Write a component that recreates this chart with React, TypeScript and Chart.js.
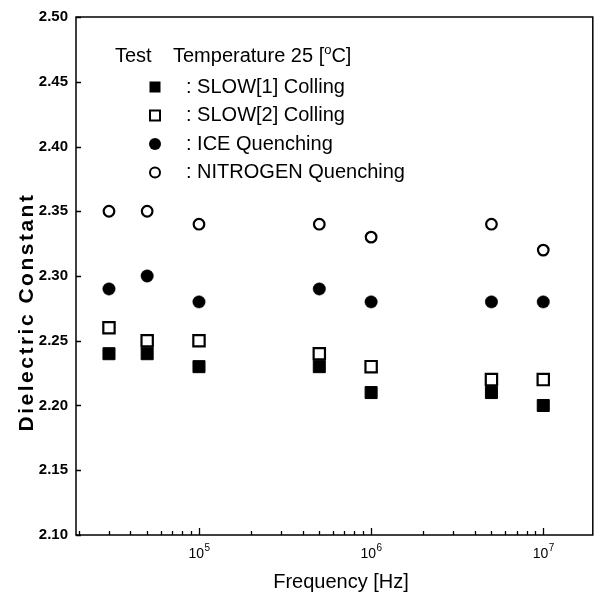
import React, { useEffect, useRef } from 'react';
import { Chart, registerables } from 'chart.js';

Chart.register(...registerables);

const frequencies = [3e4, 5e4, 1e5, 5e5, 1e6, 5e6, 1e7];
const slow1 = [2.24, 2.24, 2.23, 2.23, 2.21, 2.21, 2.2];
const slow2 = [2.26, 2.25, 2.25, 2.24, 2.23, 2.22, 2.22];
const ice = [2.29, 2.3, 2.28, 2.29, 2.28, 2.28, 2.28];
const nitrogen = [2.35, 2.35, 2.34, 2.34, 2.33, 2.34, 2.32];
const seriesLabels = [': SLOW[1] Colling', ': SLOW[2] Colling', ': ICE Quenching', ': NITROGEN Quenching'];
const yTicks = [2.1, 2.15, 2.2, 2.25, 2.3, 2.35, 2.4, 2.45, 2.5];
const xMajorTicks = [1e5, 1e6, 1e7];
const xMajorBase = ['10', '10', '10'];
const xMajorExp = ['5', '6', '7'];
const xMin = 1.93e4;
const xMax = 1.94e7;

const FONT = '"Liberation Sans", Arial, sans-serif';

const toPoints = (ys: number[]) => frequencies.map((f, i) => ({ x: f, y: ys[i] }));

const decorPlugin = {
  id: 'decor',
  afterDraw(chart: any) {
    const ctx = chart.ctx as CanvasRenderingContext2D;
    const { left, right, top, bottom } = chart.chartArea;
    const xs = chart.scales.x;
    const ys = chart.scales.y;
    ctx.save();
    ctx.strokeStyle = '#000';
    ctx.lineWidth = 1.5;
    ctx.strokeRect(left, top, right - left, bottom - top);

    // y ticks (inward)
    ctx.lineWidth = 1.3;
    ctx.beginPath();
    yTicks.forEach((v) => {
      const py = Math.round(ys.getPixelForValue(v)) + 0.5;
      ctx.moveTo(left, py);
      ctx.lineTo(left + 5, py);
    });
    // x ticks (inward), majors and minors
    for (let d = 4; d <= 7; d++) {
      for (let k = 1; k <= 9; k++) {
        const v = k * Math.pow(10, d);
        if (v < xMin || v > xMax) continue;
        const px = Math.round(xs.getPixelForValue(v)) + 0.5;
        const len = k === 1 ? 7 : 4;
        ctx.moveTo(px, bottom);
        ctx.lineTo(px, bottom - len);
      }
    }
    ctx.stroke();

    ctx.fillStyle = '#000';
    ctx.textBaseline = 'middle';

    // x tick labels with superscript exponents
    xMajorTicks.forEach((v, i) => {
      const px = xs.getPixelForValue(v);
      ctx.font = `14px ${FONT}`;
      ctx.textAlign = 'right';
      ctx.fillText(xMajorBase[i], px + 5, bottom + 19);
      ctx.font = `10px ${FONT}`;
      ctx.textAlign = 'left';
      ctx.fillText(xMajorExp[i], px + 5.5, bottom + 13);
    });

    // axis titles
    ctx.textAlign = 'center';
    ctx.font = `20px ${FONT}`;
    ctx.fillText('Frequency [Hz]', 341, 582);
    ctx.save();
    ctx.translate(27, 312);
    ctx.rotate(-Math.PI / 2);
    ctx.font = `bold 21px ${FONT}`;
    (ctx as any).letterSpacing = '2.5px';
    ctx.fillText('Dielectric Constant', 0, 0);
    ctx.restore();

    // legend
    ctx.textAlign = 'left';
    ctx.font = `20px ${FONT}`;
    ctx.fillText('Test', 115, 56);
    const t1 = 'Temperature 25 [';
    ctx.fillText(t1, 173, 56);
    let cx = 173 + ctx.measureText(t1).width;
    ctx.font = `13px ${FONT}`;
    ctx.fillText('o', cx, 50);
    cx += ctx.measureText('o').width;
    ctx.font = `20px ${FONT}`;
    ctx.fillText('C]', cx, 56);

    const rows = [87, 115.5, 144, 172.5];
    const mx = 155;
    rows.forEach((ry, i) => {
      ctx.fillText(seriesLabels[i], 186, ry);
      ctx.lineWidth = 2;
      if (i === 0) {
        ctx.fillRect(mx - 5.5, ry - 5.5, 11, 11);
      } else if (i === 1) {
        ctx.fillStyle = '#fff';
        ctx.fillRect(mx - 5, ry - 5, 10, 10);
        ctx.fillStyle = '#000';
        ctx.strokeRect(mx - 5, ry - 5, 10, 10);
      } else if (i === 2) {
        ctx.beginPath();
        ctx.arc(mx, ry, 6, 0, Math.PI * 2);
        ctx.fill();
      } else {
        ctx.beginPath();
        ctx.arc(mx, ry, 5, 0, Math.PI * 2);
        ctx.stroke();
      }
    });
    ctx.restore();
  },
};

export default function App() {
  const ref = useRef<HTMLCanvasElement | null>(null);
  useEffect(() => {
    if (!ref.current) return;
    const chart = new Chart(ref.current, {
      type: 'scatter',
      data: {
        datasets: [
          {
            label: seriesLabels[0],
            data: toPoints(slow1),
            pointStyle: 'rect',
            pointRadius: 8.5,
            backgroundColor: '#000',
            borderColor: '#000',
            borderWidth: 1,
            order: 3,
          },
          {
            label: seriesLabels[1],
            data: toPoints(slow2),
            pointStyle: 'rect',
            pointRadius: 8,
            backgroundColor: '#fff',
            borderColor: '#000',
            borderWidth: 2.2,
            order: 2,
          },
          {
            label: seriesLabels[2],
            data: toPoints(ice),
            pointStyle: 'circle',
            pointRadius: 6.2,
            backgroundColor: '#000',
            borderColor: '#000',
            borderWidth: 0.5,
            order: 1,
          },
          {
            label: seriesLabels[3],
            data: toPoints(nitrogen),
            pointStyle: 'circle',
            pointRadius: 5.3,
            backgroundColor: '#fff',
            borderColor: '#000',
            borderWidth: 2.2,
            order: 0,
          },
        ],
      },
      options: {
        animation: false,
        responsive: true,
        maintainAspectRatio: false,
        events: [],
        layout: { padding: { top: 17, right: 6, left: 0, bottom: 0 } },
        plugins: { legend: { display: false }, tooltip: { enabled: false }, title: { display: false } },
        scales: {
          x: {
            type: 'logarithmic',
            min: xMin,
            max: xMax,
            grid: { display: false, drawTicks: false },
            border: { display: false },
            afterBuildTicks: (scale: any) => {
              scale.ticks = xMajorTicks.map((v) => ({ value: v, major: true }));
            },
            afterFit: (scale: any) => {
              scale.height = 62;
            },
            ticks: {
              display: false,
              autoSkip: false,
              maxRotation: 0,
            },
          },
          y: {
            type: 'linear',
            min: 2.1,
            max: 2.5,
            grid: { display: false, drawTicks: false },
            border: { display: false },
            afterBuildTicks: (scale: any) => {
              scale.ticks = yTicks.map((v) => ({ value: v }));
            },
            afterFit: (scale: any) => {
              scale.width = 76;
            },
            ticks: {
              autoSkip: false,
              padding: 8,
              color: '#000',
              font: { family: FONT, size: 15, weight: 'bold' },
              callback: (v: any) => Number(v).toFixed(2),
            },
          },
        },
      },
      plugins: [decorPlugin],
    } as any);
    return () => chart.destroy();
  }, []);
  return (
    <div style={{ position: 'fixed', left: 0, top: 0, width: 603, height: 597, background: '#fff' }}>
      <canvas ref={ref} />
    </div>
  );
}
